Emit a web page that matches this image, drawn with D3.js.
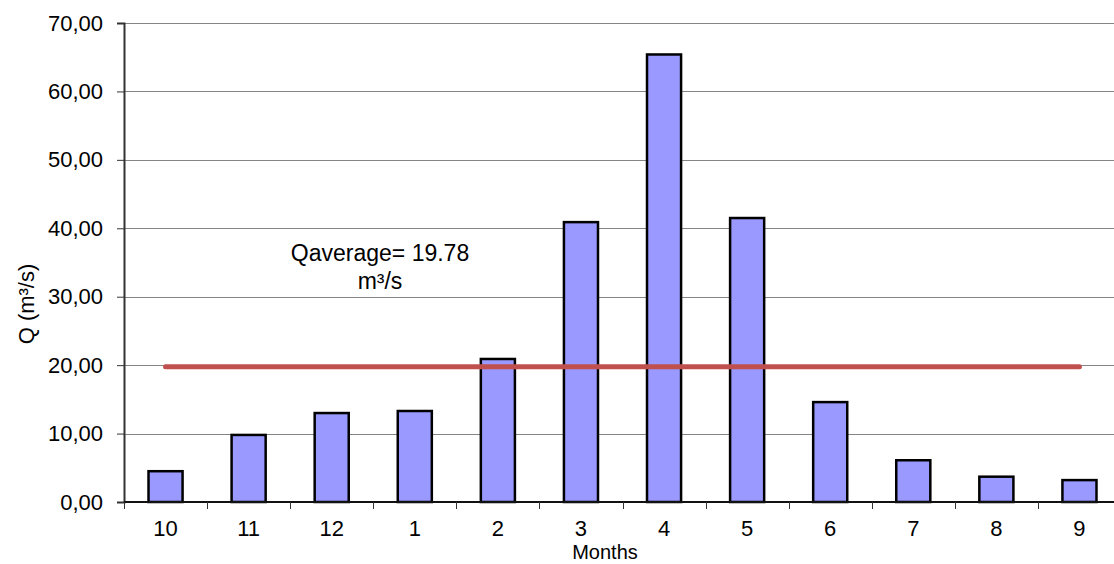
<!DOCTYPE html>
<html>
<head>
<meta charset="utf-8">
<script src="https://cdn.jsdelivr.net/npm/d3@7"></script>
<style>
  body { margin: 0; background: #fff; }
  svg { display: block; font-family: "Liberation Sans", Arial, sans-serif; }
</style>
</head>
<body>
<div id="container"></div>
<script>
let w = 1114;
let h = 564;

// data
let months = ["10", "11", "12", "1", "2", "3", "4", "5", "6", "7", "8", "9"];
let flows = [4.5, 9.8, 13.0, 13.3, 20.9, 40.9, 65.4, 41.5, 14.6, 6.1, 3.7, 3.2];
let qAverage = 19.78;
let yTicks = [0, 10, 20, 30, 40, 50, 60, 70];

let plotLeft = 124;
let plotRight = 1121;
let plotTop = 23;
let plotBottom = 502;

let data = months.map(function(m, i) { return { month: m, q: flows[i] }; });

let viz = d3.select("#container").append("svg")
    .attr("width", w)
    .attr("height", h);

let xScale = d3.scaleBand().domain(months).range([plotLeft, plotRight]).padding(0);
let yScale = d3.scaleLinear().domain([0, 70]).range([plotBottom, plotTop]);

let fmt = function(v) { return d3.format(".2f")(v).replace(".", ","); };

// gridlines
viz.append("g").selectAll("line").data(yTicks.filter(d => d > 0)).enter().append("line")
    .attr("x1", plotLeft).attr("x2", plotRight)
    .attr("y1", d => Math.round(yScale(d)) + 0.5)
    .attr("y2", d => Math.round(yScale(d)) + 0.5)
    .attr("stroke", "#858585")
    .attr("stroke-width", 1);

// y axis
let yAxis = d3.axisLeft(yScale).tickValues(yTicks).tickFormat(fmt).tickSizeOuter(0).tickSize(7).tickPadding(14);
let yAxisGroup = viz.append("g").attr("transform", "translate(" + plotLeft + ",0)").call(yAxis);
yAxisGroup.select(".domain").attr("stroke", "#333").attr("stroke-width", 2);
yAxisGroup.selectAll(".tick line").attr("stroke", "#333").attr("stroke-width", 1);
yAxisGroup.selectAll("text").attr("font-size", 22).attr("fill", "#000")
    .attr("font-family", "Liberation Sans, Arial, sans-serif");

// bars
let barW = xScale.bandwidth() * 0.41;
viz.selectAll(".bar").data(data).enter().append("rect")
    .attr("class", "bar")
    .attr("x", d => xScale(d.month) + (xScale.bandwidth() - barW) / 2)
    .attr("y", d => yScale(d.q))
    .attr("width", barW)
    .attr("height", d => yScale(0) - yScale(d.q))
    .attr("fill", "#9999ff")
    .attr("stroke", "#000")
    .attr("stroke-width", 2.5);

// x axis
let xAxisGroup = viz.append("g").attr("transform", "translate(0," + plotBottom + ")");
xAxisGroup.append("line")
    .attr("x1", plotLeft).attr("x2", plotRight).attr("y1", 0).attr("y2", 0)
    .attr("stroke", "#111").attr("stroke-width", 2);
xAxisGroup.selectAll(".xtick").data(months).enter().append("line")
    .attr("class", "xtick")
    .attr("x1", d => Math.round(xScale(d)) + 0.5)
    .attr("x2", d => Math.round(xScale(d)) + 0.5)
    .attr("y1", 0).attr("y2", 7)
    .attr("stroke", "#333");
xAxisGroup.selectAll(".xlabel").data(months).enter().append("text")
    .attr("class", "xlabel")
    .attr("x", d => xScale(d) + xScale.bandwidth() / 2)
    .attr("y", 34)
    .attr("text-anchor", "middle")
    .attr("font-size", 22)
    .text(d => d);

// average line
viz.append("line")
    .attr("x1", xScale(months[0]) + xScale.bandwidth() / 2)
    .attr("x2", xScale(months[months.length - 1]) + xScale.bandwidth() / 2)
    .attr("y1", yScale(qAverage))
    .attr("y2", yScale(qAverage))
    .attr("stroke", "#c0504d")
    .attr("stroke-width", 5)
    .attr("stroke-linecap", "round");

// annotation
let note = viz.append("text").attr("text-anchor", "middle").attr("font-size", 23);
note.append("tspan").attr("x", 380).attr("y", 261).text("Qaverage= " + qAverage);
note.append("tspan").attr("x", 380).attr("y", 289).text("m³/s");

// axis titles
viz.append("text")
    .attr("x", 605).attr("y", 559)
    .attr("text-anchor", "middle")
    .attr("font-size", 20)
    .text("Months");

viz.append("text")
    .attr("transform", "translate(34,304) rotate(-90)")
    .attr("text-anchor", "middle")
    .attr("font-size", 22)
    .text("Q (m³/s)");
</script>
</body>
</html>
